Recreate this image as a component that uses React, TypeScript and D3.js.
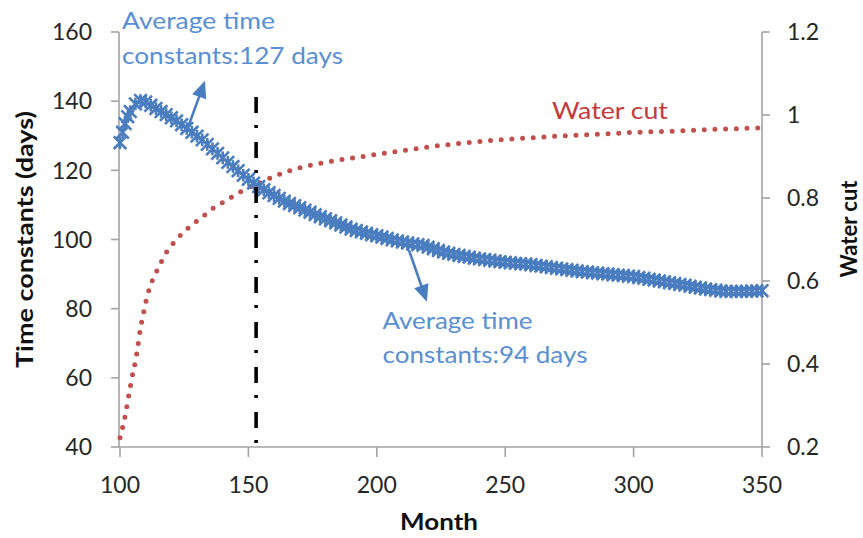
import React from 'react';
import * as d3 from 'd3';

const W = 863;
const H = 538;
const FONT = 'Lato, "Open Sans", sans-serif';

// Time constants (days) by month
const tcMonth = [
  100, 101, 102, 103, 104, 106, 108, 110, 112, 114, 116, 118, 120, 122, 124, 126, 128, 130,
  132, 134, 136, 138, 140, 142, 144, 146, 148, 150, 152, 154, 156, 158, 160, 162, 164, 166,
  168, 170, 172, 174, 176, 178, 180, 182, 184, 186, 188, 190, 192, 194, 196, 198, 200, 202,
  204, 206, 208, 210, 212, 214, 216, 218, 220, 222, 224, 226, 228, 230, 232, 234, 236, 238,
  240, 242, 244, 246, 248, 250, 252, 254, 256, 258, 260, 262, 264, 266, 268, 270, 272, 274,
  276, 278, 280, 282, 284, 286, 288, 290, 292, 294, 296, 298, 300, 302, 304, 306, 308, 310,
  312, 314, 316, 318, 320, 322, 324, 326, 328, 330, 332, 334, 336, 338, 340, 342, 344, 346,
  348, 350,
];
const tcDays = [
  128.0, 131.0, 133.5, 135.5, 137.0, 139.2, 140.2, 139.8, 138.8, 137.9, 137.0, 136.1, 135.2, 134.3, 133.2, 132.1, 131.0, 129.9,
  128.8, 127.5, 126.2, 124.9, 123.6, 122.3, 121.1, 119.9, 118.6, 117.4, 116.3, 115.3, 114.4, 113.5, 112.7, 111.9, 111.1, 110.4,
  109.8, 109.2, 108.5, 107.9, 107.2, 106.6, 106.0, 105.4, 104.8, 104.2, 103.6, 103.0, 102.6, 102.2, 101.8, 101.4, 101.1, 100.7,
  100.3, 99.9, 99.6, 99.3, 99.0, 98.7, 98.5, 98.3, 97.8, 97.3, 96.8, 96.4, 96.0, 95.7, 95.4, 95.1, 94.9, 94.6,
  94.4, 94.2, 94.0, 93.8, 93.6, 93.4, 93.3, 93.1, 93.0, 92.9, 92.7, 92.5, 92.3, 92.1, 91.9, 91.7, 91.5, 91.3,
  91.1, 90.9, 90.7, 90.6, 90.4, 90.3, 90.1, 90.0, 89.8, 89.7, 89.6, 89.4, 89.3, 89.0, 88.8, 88.5, 88.3, 88.0,
  87.8, 87.5, 87.3, 87.0, 86.8, 86.5, 86.2, 86.0, 85.7, 85.5, 85.3, 85.1, 85.0, 85.0, 85.0, 85.0, 85.0, 85.1,
  85.1, 85.2,
];

// Water cut (fraction) by month
const wcMonth = [
  100, 101, 102, 103, 104, 105, 106, 107, 108, 109, 110, 111, 112, 113, 114, 115, 116, 118,
  120, 122, 125, 128, 132, 136, 140, 145, 150, 155, 160, 170, 180, 190, 200, 210, 220, 230,
  240, 250, 260, 270, 280, 290, 300, 310, 320, 330, 340, 350,
];
const wcValue = [
  0.222, 0.247, 0.275, 0.31, 0.345, 0.378, 0.406, 0.445, 0.487, 0.518, 0.548, 0.572, 0.592, 0.607, 0.62, 0.632, 0.645, 0.668,
  0.685, 0.7, 0.719, 0.735, 0.754, 0.774, 0.789, 0.808, 0.825, 0.838, 0.852, 0.873, 0.886, 0.896, 0.905, 0.914, 0.923, 0.93,
  0.936, 0.941, 0.945, 0.949, 0.952, 0.955, 0.958, 0.96, 0.962, 0.965, 0.967, 0.969,
];

const monthTicks = [100, 150, 200, 250, 300, 350];
const daysTicks = [40, 60, 80, 100, 120, 140, 160];
const wcTicks = [0.2, 0.4, 0.6, 0.8, 1, 1.2];
const wcTickLabels = ['0.2', '0.4', '0.6', '0.8', '1', '1.2'];

// Period boundary (dash-dot line)
const splitMonth = 153;
const splitTop = 141.2;

const earlyNote = ['Average time', 'constants:127 days'];
const lateNote = ['Average time', 'constants:94 days'];

const BLUE = '#4a7dbf';
const BLUE_TEXT = '#5a8fd2';
const RED = '#c0504d';
const AXIS = '#a3a3a3';
const INK = '#262626';

function Arrow({ x1, y1, x2, y2 }: { x1: number; y1: number; x2: number; y2: number }) {
  const dx = x2 - x1;
  const dy = y2 - y1;
  const len = Math.hypot(dx, dy);
  const ux = dx / len;
  const uy = dy / len;
  const hl = 17;
  const hw = 7.5;
  const bx = x2 - ux * hl;
  const by = y2 - uy * hl;
  const pts = [
    [x2, y2],
    [bx - uy * hw, by + ux * hw],
    [bx + uy * hw, by - ux * hw],
  ];
  return (
    <g>
      <line x1={x1} y1={y1} x2={bx + ux * 2} y2={by + uy * 2} stroke={BLUE} strokeWidth={2.6} />
      <polygon points={pts.map((p) => p.join(',')).join(' ')} fill={BLUE} />
    </g>
  );
}

export default function App() {
  const x = d3.scaleLinear().domain([100, 350]).range([120, 762]);
  const yL = d3.scaleLinear().domain([40, 160]).range([447, 32]);
  const yR = d3.scaleLinear().domain([0.2, 1.2]).range([447, 32]);

  const x0 = x.range()[0] - 1;
  const x1 = x.range()[1];
  const yTop = yL.range()[1];
  const yBot = yL.range()[0];

  const wcLine = d3
    .line<number>()
    .x((_, i) => x(wcMonth[i]))
    .y((v) => yR(v))
    .curve(d3.curveMonotoneX)(wcValue) as string;

  const s = 6.3;
  const star = `M${-s},${-s}L${s},${s}M${-s},${s}L${s},${-s}M0,${-s}L0,${s}`;

  return (
    <svg
      width={W}
      height={H}
      viewBox={`0 0 ${W} ${H}`}
      style={{ position: 'absolute', left: 0, top: 0, background: '#fff' }}
      fontFamily={FONT}
    >
      <rect width={W} height={H} fill="#fff" />

      {/* axes */}
      <g stroke={AXIS} strokeWidth={1.6} fill="none">
        <line x1={x0} y1={yTop} x2={x0} y2={yBot} />
        <line x1={x1} y1={yTop} x2={x1} y2={yBot} />
        <line x1={x0} y1={yBot} x2={x1} y2={yBot} />
        {daysTicks.map((t) => (
          <line key={'l' + t} x1={x0 - 8} x2={x0} y1={yL(t)} y2={yL(t)} />
        ))}
        {wcTicks.map((t) => (
          <line key={'r' + t} x1={x1} x2={x1 + 8} y1={yR(t)} y2={yR(t)} />
        ))}
        {monthTicks.map((t) => (
          <line key={'b' + t} x1={x(t)} x2={x(t)} y1={yBot} y2={yBot + 10} />
        ))}
      </g>

      {/* tick labels */}
      <g fill={INK} fontSize={23}>
        {daysTicks.map((t) => (
          <text key={'lt' + t} x={x0 - 27} y={yL(t)} dy="0.36em" textAnchor="end">
            {t}
          </text>
        ))}
        {wcTicks.map((t, i) => (
          <text key={'rt' + t} x={x1 + 25} y={yR(t)} dy="0.36em" textAnchor="start">
            {wcTickLabels[i]}
          </text>
        ))}
        {monthTicks.map((t) => (
          <text key={'bt' + t} x={x(t)} y={yBot + 46} textAnchor="middle">
            {t}
          </text>
        ))}
      </g>

      {/* axis titles */}
      <g fill="#111" fontWeight={700} fontSize={23}>
        <text x={439} y={530} textAnchor="middle" textLength={78} lengthAdjust="spacingAndGlyphs">
          Month
        </text>
        <text
          transform={`translate(33, ${(yTop + yBot) / 2}) rotate(-90)`}
          textAnchor="middle"
          textLength={257}
          lengthAdjust="spacingAndGlyphs"
        >
          Time constants (days)
        </text>
        <text
          transform={`translate(857, 229) rotate(-90)`}
          textAnchor="middle"
          textLength={97}
          lengthAdjust="spacingAndGlyphs"
        >
          Water cut
        </text>
      </g>

      {/* water cut */}
      <path
        d={wcLine}
        fill="none"
        stroke={RED}
        strokeWidth={5}
        strokeLinecap="round"
        strokeDasharray="0 10.7"
      />

      {/* time constants markers */}
      <g stroke={BLUE} strokeWidth={2.6} fill="none">
        {tcDays.map((v, i) => (
          <path key={i} d={star} transform={`translate(${x(tcMonth[i])},${yL(v)})`} />
        ))}
      </g>

      {/* period boundary */}
      <line
        x1={x(splitMonth)}
        x2={x(splitMonth)}
        y1={yL(splitTop)}
        y2={yBot}
        stroke="#000"
        strokeWidth={3.6}
        strokeDasharray="16 12 3 14"
      />

      {/* annotations */}
      <Arrow x1={x(126.1)} y1={yL(131.7)} x2={x(133.1)} y2={yL(145.9)} />
      <Arrow x1={x(212.5)} y1={yL(97.0)} x2={x(219.5)} y2={yL(82.0)} />

      <g fill={BLUE_TEXT} fontSize={23}>
        <text x={x(100.8)} y={yL(160.9)} textLength={153} lengthAdjust="spacingAndGlyphs">
          {earlyNote[0]}
        </text>
        <text x={x(100.8)} y={yL(150.8)} textLength={221} lengthAdjust="spacingAndGlyphs">
          {earlyNote[1]}
        </text>
        <text x={x(202.2)} y={yL(74.2)} textLength={150} lengthAdjust="spacingAndGlyphs">
          {lateNote[0]}
        </text>
        <text x={x(202.2)} y={yL(64.3)} textLength={205} lengthAdjust="spacingAndGlyphs">
          {lateNote[1]}
        </text>
      </g>
      <text
        x={x(268.2)}
        y={yR(0.99)}
        fill="#c23b3b"
        fontSize={24}
        textLength={116}
        lengthAdjust="spacingAndGlyphs"
      >
        Water cut
      </text>
    </svg>
  );
}
